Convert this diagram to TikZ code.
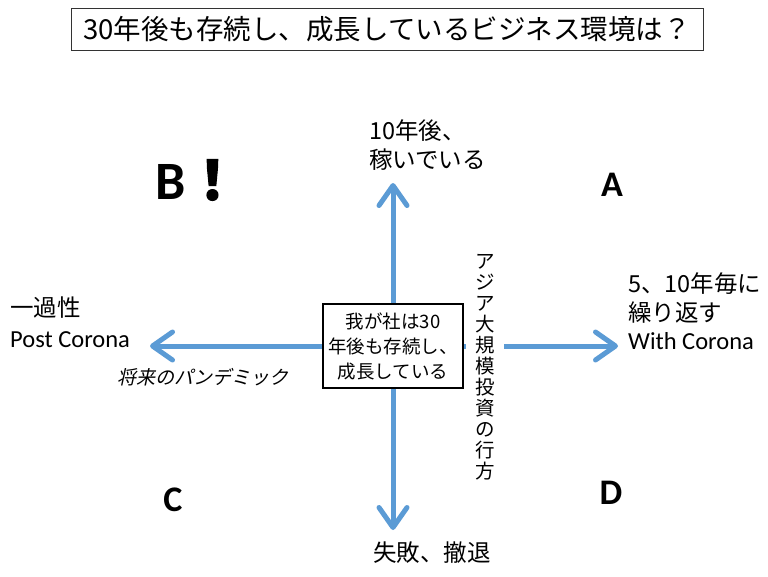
\documentclass[tikz,border=0pt]{standalone}
\usepackage{fontspec}
\setmainfont{Carlito}
\newfontfamily\jp{Noto Sans CJK JP}
\newfontfamily\jpit{Noto Sans CJK JP}[FakeSlant=0.22]
\newfontfamily\jpbf{Noto Sans CJK JP}[FakeBold=2]
\usetikzlibrary{arrows.meta}
\definecolor{axisblue}{HTML}{5B9BD5}
\newcommand\fsz[2]{\fontsize{#1pt}{#2pt}\selectfont}
\tikzset{
  axisarrow/.style={draw=axisblue, line width=5pt,
    -{Straight Barb[length=20pt,width=28pt,line width=5pt,round]}},
  lbl/.style={inner sep=0pt, align=left, text=black},
  quad/.style={inner sep=0pt, font=\fsz{36}{40}\bfseries},
}
\begin{document}
\begin{tikzpicture}[x=1pt,y=-1pt]
\useasboundingbox[fill=white] (0,0) rectangle (768,576);
% title
\node[draw=black!80, line width=1pt, minimum width=632pt, minimum height=42pt, inner sep=0pt,
  font=\jp\fsz{27.5}{30}] (title) at (387,29) {30年後も存続し、成長しているビジネス環境は？};
% axes
\coordinate (ctr) at (393,346);
\coordinate (tipT) at (393,183);
\coordinate (tipB) at (393,530);
\coordinate (tipL) at (150,346);
\coordinate (tipR) at (618,346);
\draw[axisarrow] (ctr) -- (tipT);
\draw[axisarrow] (ctr) -- (tipB);
\draw[axisarrow] (ctr) -- (tipL);
\draw[axisarrow] (ctr) -- (tipR);
% centre box
\node[draw=black, line width=2pt, fill=white, minimum width=140pt, minimum height=84pt,
  inner sep=0pt, align=center, font=\jp\fsz{18.5}{25}] (centre) at (ctr)
  {我が社は30\\年後も存続し、\\成長している};
% vertical text
\node[fill=white, inner sep=1pt, minimum width=38pt, align=center, font=\jp\fsz{19.5}{21}]
  (asia) at (485,367) {ア\\ジ\\ア\\大\\規\\模\\投\\資\\の\\行\\方};
% axis labels
\node[lbl, anchor=west, font=\jp\fsz{23.5}{29}] (top) at (369,145.5) {10年後、\\稼いでいる};
\node[lbl, anchor=center, font=\jp\fsz{23.5}{29}] (bottom) at (432,553) {失敗、撤退};
\node[lbl, anchor=west, font=\fsz{23.5}{31}] (left) at (10,322.5)
  {{\jp 一過性}\\{\fontsize{24.5pt}{31pt}\selectfont Post Corona}};
\node[lbl, anchor=west, font=\fsz{23.5}{28.5}] (right) at (628,311.5)
  {{\jp 5、10年毎に}\\{\jp 繰り返す}\\{\fontsize{24.5pt}{28.5pt}\selectfont With Corona}};
\node[lbl, anchor=center, font=\jpit\fsz{19}{22}] (pand) at (203,377) {将来のパンデミック};
% quadrant letters
\node[inner sep=0pt, anchor=west] (B) at (155,180) {\fsz{54}{58}\bfseries B\jpbf！};
\node[quad] (A) at (612,185) {A};
\node[quad] (C) at (173,500) {C};
\node[quad] (D) at (611,493) {D};
\end{tikzpicture}
\end{document}
